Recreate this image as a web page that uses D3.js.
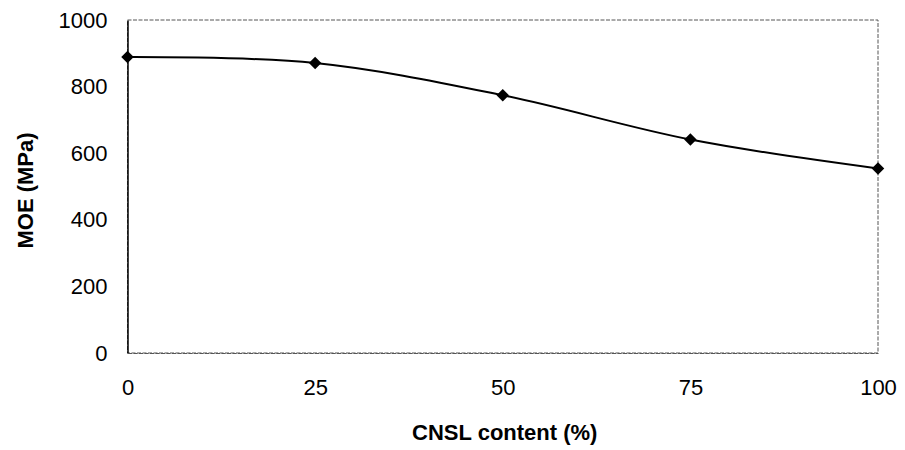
<!DOCTYPE html>
<html>
<head>
<meta charset="utf-8">
<script src="https://cdn.jsdelivr.net/npm/d3@7"></script>
<style>
  html, body { margin: 0; padding: 0; background: #fff; }
  svg { display: block; }
  text { font-family: "Liberation Sans", Arial, sans-serif; fill: #000; }
</style>
</head>
<body>
<div id="chart"></div>
<script>
// ---- data ----
const cnslContent = [0, 25, 50, 75, 100];
const moeValues = [889, 871, 774, 641, 554];
const yTickValues = [0, 200, 400, 600, 800, 1000];
const xTickValues = [0, 25, 50, 75, 100];
const xTitle = "CNSL content (%)";
const yTitle = "MOE (MPa)";

const W = 905, H = 450;
const margin = { left: 127.5, right: 27, top: 20, bottom: 97 };
const innerW = W - margin.left - margin.right;
const innerH = H - margin.top - margin.bottom;

const svg = d3.select("#chart").append("svg").attr("width", W).attr("height", H);
const g = svg.append("g").attr("transform", `translate(${margin.left},${margin.top})`);

const x = d3.scaleLinear().domain([0, 100]).range([0, innerW]);
const y = d3.scaleLinear().domain([0, 1000]).range([innerH, 0]);

// plot border (dotted grey on top/right/bottom)
g.append("rect")
  .attr("x", 0).attr("y", 0).attr("width", innerW).attr("height", innerH)
  .attr("fill", "none").attr("stroke", "#555").attr("stroke-width", 1)
  .attr("stroke-dasharray", "4,1.5");

// y axis (solid left line, no tick marks)
const yAxis = d3.axisLeft(y).tickValues(yTickValues).tickFormat(d3.format("d")).tickSize(0).tickPadding(20);
const yg = g.append("g").call(yAxis);
yg.select(".domain").attr("stroke", "#000").attr("stroke-width", 1.5);
yg.selectAll("text").attr("font-size", 22).attr("font-family", "Liberation Sans, Arial, sans-serif");

// x axis (labels only)
const xAxis = d3.axisBottom(x).tickValues(xTickValues).tickFormat(d3.format("d")).tickSize(0).tickPadding(26);
const xg = g.append("g").attr("transform", `translate(0,${innerH})`).call(xAxis);
xg.select(".domain").attr("stroke", "#555").attr("stroke-width", 1).attr("stroke-dasharray", "4,1.5");
xg.selectAll("text").attr("font-size", 22).attr("font-family", "Liberation Sans, Arial, sans-serif");

// smoothed line
const line = d3.line()
  .x((d, i) => x(cnslContent[i]))
  .y(d => y(d))
  .curve(d3.curveCatmullRom.alpha(0.5));
g.append("path")
  .datum(moeValues)
  .attr("fill", "none")
  .attr("stroke", "#000")
  .attr("stroke-width", 2)
  .attr("d", line);

// diamond markers
const sym = d3.symbol().type(d3.symbolSquare).size(78);
g.selectAll(".pt").data(moeValues).enter().append("path")
  .attr("class", "pt")
  .attr("d", sym)
  .attr("transform", (d, i) => `translate(${x(cnslContent[i])},${y(d)}) rotate(45)`)
  .attr("fill", "#000");

// axis titles
svg.append("text")
  .attr("x", margin.left + innerW / 2 + 2)
  .attr("y", 440)
  .attr("text-anchor", "middle")
  .attr("font-size", 22).attr("font-weight", "bold")
  .text(xTitle);

svg.append("text")
  .attr("transform", `translate(33,${margin.top + innerH / 2 + 4}) rotate(-90)`)
  .attr("text-anchor", "middle")
  .attr("font-size", 22).attr("font-weight", "bold")
  .text(yTitle);
</script>
</body>
</html>
